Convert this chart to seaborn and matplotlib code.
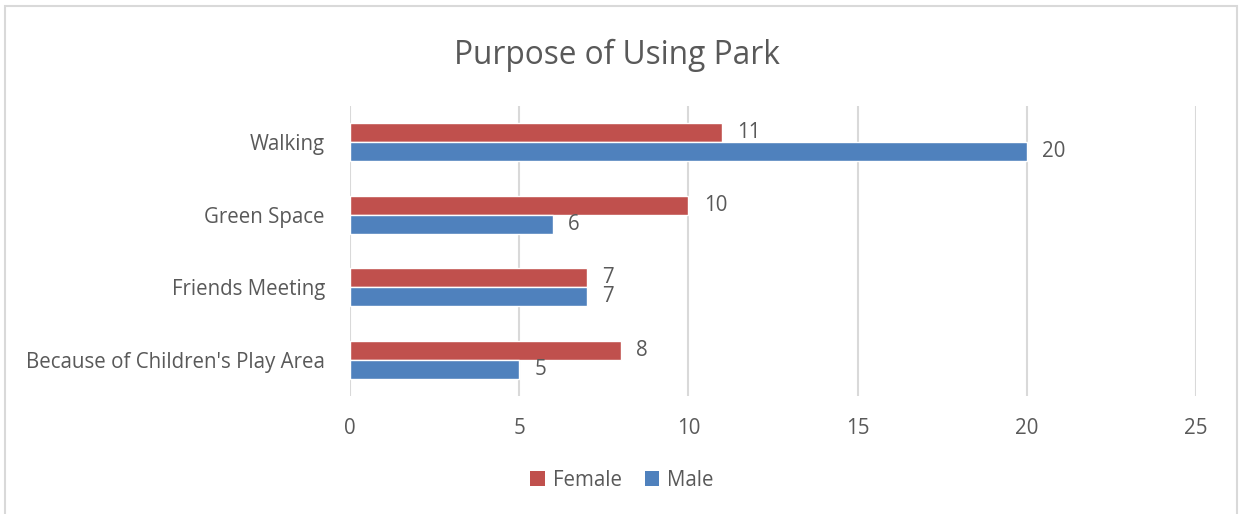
import matplotlib
matplotlib.use("Agg")
import matplotlib.pyplot as plt
from matplotlib.patches import Rectangle, Patch
import seaborn as sns
import pandas as pd

categories = ["Walking", "Green Space", "Friends Meeting", "Because of Children's Play Area"]
female = [11, 10, 7, 8]
male = [20, 6, 7, 5]
series_names = ["Female", "Male"]
x_ticks = [0, 5, 10, 15, 20, 25]

colors = {"Female": "#C0504D", "Male": "#4F81BD"}
text_color = "#595959"
grid_color = "#D9D9D9"

df = pd.DataFrame({
    "Purpose": categories * 2,
    "Count": female + male,
    "Gender": ["Female"] * len(categories) + ["Male"] * len(categories),
})

sns.set_theme(style="white")
plt.rcParams["font.family"] = ["Open Sans", "DejaVu Sans"]

fig = plt.figure(figsize=(12.45, 5.14), dpi=100)
ax = fig.add_axes([350 / 1245, 1 - 396 / 514, (1196 - 350) / 1245, (396 - 106) / 514])

sns.barplot(data=df, y="Purpose", x="Count", hue="Gender", order=categories,
            hue_order=series_names, palette=colors, orient="h", width=0.52,
            saturation=1, ax=ax, legend=False)

ax.set_xlim(0, 25)
ax.set_xticks(x_ticks)
ax.set_xlabel("")
ax.set_ylabel("")
for s in ax.spines.values():
    s.set_visible(False)
ax.grid(axis="x", color=grid_color, linewidth=1.5)
ax.grid(axis="y", visible=False)
ax.set_axisbelow(True)
ax.tick_params(axis="x", colors=text_color, labelsize=14.8, length=0, pad=16)
ax.tick_params(axis="y", colors=text_color, labelsize=14.8, length=0, pad=18)
for lbl in ax.get_xticklabels() + ax.get_yticklabels():
    lbl.set_color(text_color)

for cont in ax.containers:
    ax.bar_label(cont, fmt="%d", padding=11, color=text_color, fontsize=14.8)

fig.suptitle("Purpose of Using Park", x=0.4955, y=1 - 55 / 514, va="center",
             fontsize=22.8, color=text_color)

handles = [Patch(facecolor=colors[n], edgecolor="none", label=n) for n in series_names]
fig.legend(handles=handles, loc="center", bbox_to_anchor=(622 / 1245, 1 - 480 / 514),
           ncol=2, frameon=False, fontsize=14.8, labelcolor=text_color,
           handlelength=0.7, handleheight=0.7, handletextpad=0.4, columnspacing=1.1)

fig.patches.append(Rectangle((5 / 1245, -0.01), (1237 - 5) / 1245, 1 - 6 / 514 + 0.01,
                             transform=fig.transFigure, fill=False,
                             edgecolor=grid_color, linewidth=1.5))

fig.savefig("out.png", dpi=100)
